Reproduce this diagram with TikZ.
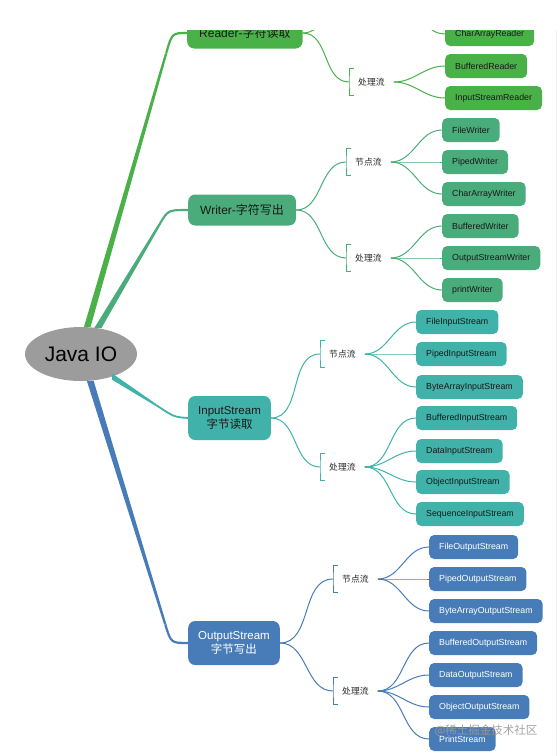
\documentclass[tikz,border=0pt]{standalone}
\usepackage{fontspec}
\setmainfont{Liberation Sans}
\newfontfamily\cjk{Noto Sans CJK SC}
\usetikzlibrary{shapes.geometric,calc}
\definecolor{rdgreen}{RGB}{74,176,72}
\definecolor{wrgreen}{RGB}{74,172,122}
\definecolor{inteal}{RGB}{64,178,170}
\definecolor{outblue}{RGB}{72,124,184}
\definecolor{rootgray}{RGB}{156,156,156}

\begin{document}
\begin{tikzpicture}[x=1pt, y=-1pt,
    root/.style={ellipse, fill=rootgray, minimum width=112pt, minimum height=54pt, inner sep=0pt, font=\fontsize{21}{24}\selectfont},
    branch/.style={rectangle, rounded corners=7pt, anchor=west, minimum height=31pt, inner xsep=12pt, text=black!90, font=\fontsize{12}{14}\selectfont},
    twoline/.style={branch, minimum height=44pt, inner xsep=10pt, align=center, font=\fontsize{11.5}{14.5}\selectfont},
    leaf/.style={rectangle, rounded corners=5pt, anchor=west, minimum height=24pt, inner xsep=10pt, text=black!90, font=\fontsize{8.8}{10}\selectfont},
    kind/.style={anchor=west, minimum height=26pt, inner xsep=9pt, text=black!85, font=\cjk\fontsize{8.8}{10}\selectfont},
    twig/.style={line width=1pt},
    bracket/.style={line width=0.9pt}
]
\useasboundingbox (0,0) rectangle (558,756);

\node[root] (root) at (81,354) {Java IO};

\node[branch, fill=rdgreen] (reader) at (187,33) {Reader-{\cjk 字符读取}};
\node[branch, fill=wrgreen] (writer) at (188,210) {Writer-{\cjk 字符写出}};
\node[twoline, fill=inteal] (instream) at (188,418) {InputStream\\{\cjk 字节读取}};
\node[twoline, fill=outblue, text=white] (outstream) at (188,643) {OutputStream\\{\cjk 字节写出}};

% trunks
\coordinate (rdc) at (172,33);
\coordinate (wrc) at (168,210);
\coordinate (inc) at (174,417);
\coordinate (outc) at (171,643);
\coordinate (rdt) at ($(root.77)!0.93!(rdc)$);
\coordinate (wrt) at ($(root.57)!0.88!(wrc)$);
\coordinate (int) at (156,405);
\coordinate (outt) at ($(root.-71)!0.93!(outc)$);

\fill[rdgreen] ([xshift=-3.3pt]root.77) -- ([xshift=3.3pt]root.77) -- ([xshift=1.2pt]rdt) -- ([xshift=-1.2pt]rdt) -- cycle;
\draw[rdgreen, line width=2.2pt] (rdt) .. controls (rdc) .. (reader.west);
\fill[wrgreen] ([xshift=-3.6pt]root.57) -- ([xshift=3.6pt]root.57) -- ([xshift=1.3pt]wrt) -- ([xshift=-1.3pt]wrt) -- cycle;
\draw[wrgreen, line width=2.1pt] (wrt) .. controls (wrc) .. (writer.west);
\fill[inteal] ([yshift=-3.2pt]root.-36) -- ([yshift=3.2pt]root.-36) -- ([yshift=1.1pt]int) -- ([yshift=-1.1pt]int) -- cycle;
\draw[inteal, line width=1.8pt] (int) .. controls (inc) .. (instream.west);
\fill[outblue] ([xshift=-3.4pt]root.-71) -- ([xshift=3.4pt]root.-71) -- ([xshift=1.2pt]outt) -- ([xshift=-1.2pt]outt) -- cycle;
\draw[outblue, line width=2.2pt] (outt) .. controls (outc) .. (outstream.west);

% Reader
\coordinate (rnw) at (349,2);
\coordinate (rne) at (395,2);
\node[kind] (rp) at (349,82) {处理流};
\node[leaf, fill=rdgreen] (rn3) at (445,34) {CharArrayReader};
\node[leaf, fill=rdgreen] (rp1) at (445,66) {BufferedReader};
\node[leaf, fill=rdgreen] (rp2) at (445,98) {InputStreamReader};

\draw[twig, rdgreen] (reader.east) to[out=0, in=180] (rnw);
\draw[twig, rdgreen] (reader.east) to[out=0, in=180] (rp.west);
\draw[bracket, rdgreen] ([xshift=5pt]rp.north west) -| (rp.west) |- ([xshift=5pt]rp.south west);
\draw[twig, rdgreen] (rne) to[out=0, in=180] (rn3.west);
\draw[twig, rdgreen] (rp.east) to[out=0, in=180] (rp1.west);
\draw[twig, rdgreen] (rp.east) to[out=0, in=180] (rp2.west);

% Writer
\node[kind] (wn) at (346,162) {节点流};
\node[kind] (wp) at (346,258) {处理流};
\node[leaf, fill=wrgreen] (wn1) at (442,130) {FileWriter};
\node[leaf, fill=wrgreen] (wn2) at (442,162) {PipedWriter};
\node[leaf, fill=wrgreen] (wn3) at (442,194) {CharArrayWriter};
\node[leaf, fill=wrgreen] (wp1) at (442,226) {BufferedWriter};
\node[leaf, fill=wrgreen] (wp2) at (442,258) {OutputStreamWriter};
\node[leaf, fill=wrgreen] (wp3) at (442,290) {printWriter};

\draw[twig, wrgreen] (writer.east) to[out=0, in=180] (wn.west);
\draw[twig, wrgreen] (writer.east) to[out=0, in=180] (wp.west);
\draw[bracket, wrgreen] ([xshift=5pt]wn.north west) -| (wn.west) |- ([xshift=5pt]wn.south west);
\draw[bracket, wrgreen] ([xshift=5pt]wp.north west) -| (wp.west) |- ([xshift=5pt]wp.south west);
\draw[twig, wrgreen] (wn.east) to[out=0, in=180] (wn1.west);
\draw[twig, wrgreen] (wn.east) to[out=0, in=180] (wn2.west);
\draw[twig, wrgreen] (wn.east) to[out=0, in=180] (wn3.west);
\draw[twig, wrgreen] (wp.east) to[out=0, in=180] (wp1.west);
\draw[twig, wrgreen] (wp.east) to[out=0, in=180] (wp2.west);
\draw[twig, wrgreen] (wp.east) to[out=0, in=180] (wp3.west);

% InputStream
\node[kind] (in) at (320,354) {节点流};
\node[kind] (ip) at (320,467) {处理流};
\node[leaf, fill=inteal] (in1) at (416,322) {FileInputStream};
\node[leaf, fill=inteal] (in2) at (416,354) {PipedInputStream};
\node[leaf, fill=inteal] (in3) at (416,387) {ByteArrayInputStream};
\node[leaf, fill=inteal] (ip1) at (416,418) {BufferedInputStream};
\node[leaf, fill=inteal] (ip2) at (416,451) {DataInputStream};
\node[leaf, fill=inteal] (ip3) at (416,482) {ObjectInputStream};
\node[leaf, fill=inteal] (ip4) at (416,514) {SequenceInputStream};

\draw[twig, inteal] (instream.east) to[out=0, in=180] (in.west);
\draw[twig, inteal] (instream.east) to[out=0, in=180] (ip.west);
\draw[bracket, inteal] ([xshift=5pt]in.north west) -| (in.west) |- ([xshift=5pt]in.south west);
\draw[bracket, inteal] ([xshift=5pt]ip.north west) -| (ip.west) |- ([xshift=5pt]ip.south west);
\draw[twig, inteal] (in.east) to[out=0, in=180] (in1.west);
\draw[twig, inteal] (in.east) to[out=0, in=180] (in2.west);
\draw[twig, inteal] (in.east) to[out=0, in=180] (in3.west);
\draw[twig, inteal] (ip.east) to[out=0, in=180] (ip1.west);
\draw[twig, inteal] (ip.east) to[out=0, in=180] (ip2.west);
\draw[twig, inteal] (ip.east) to[out=0, in=180] (ip3.west);
\draw[twig, inteal] (ip.east) to[out=0, in=180] (ip4.west);

% OutputStream
\node[kind] (on) at (333,579) {节点流};
\node[kind] (op) at (333,691) {处理流};
\node[leaf, fill=outblue, text=white] (on1) at (429,547) {FileOutputStream};
\node[leaf, fill=outblue, text=white] (on2) at (429,579) {PipedOutputStream};
\node[leaf, fill=outblue, text=white] (on3) at (429,611) {ByteArrayOutputStream};
\node[leaf, fill=outblue, text=white] (op1) at (429,643) {BufferedOutputStream};
\node[leaf, fill=outblue, text=white] (op2) at (429,675) {DataOutputStream};
\node[leaf, fill=outblue, text=white] (op3) at (429,707) {ObjectOutputStream};
\node[leaf, fill=outblue, text=white] (op4) at (429,739) {PrintStream};

\draw[twig, outblue] (outstream.east) to[out=0, in=180] (on.west);
\draw[twig, outblue] (outstream.east) to[out=0, in=180] (op.west);
\draw[bracket, outblue] ([xshift=5pt]on.north west) -| (on.west) |- ([xshift=5pt]on.south west);
\draw[bracket, outblue] ([xshift=5pt]op.north west) -| (op.west) |- ([xshift=5pt]op.south west);
\draw[twig, outblue] (on.east) to[out=0, in=180] (on1.west);
\draw[twig, outblue] (on.east) to[out=0, in=180] (on2.west);
\draw[twig, outblue] (on.east) to[out=0, in=180] (on3.west);
\draw[twig, outblue] (op.east) to[out=0, in=180] (op1.west);
\draw[twig, outblue] (op.east) to[out=0, in=180] (op2.west);
\draw[twig, outblue] (op.east) to[out=0, in=180] (op3.west);
\draw[twig, outblue] (op.east) to[out=0, in=180] (op4.west);

\node[font=\cjk\fontsize{11.5}{12}\selectfont, text=gray!80, opacity=0.9] (mark) at (486,731) {@稀土掘金技术社区};

\fill[white] (0,0) rectangle (558,30);
\draw[gray!12, line width=0.8pt] (556.5,30) -- (556.5,756);
\end{tikzpicture}
\end{document}
